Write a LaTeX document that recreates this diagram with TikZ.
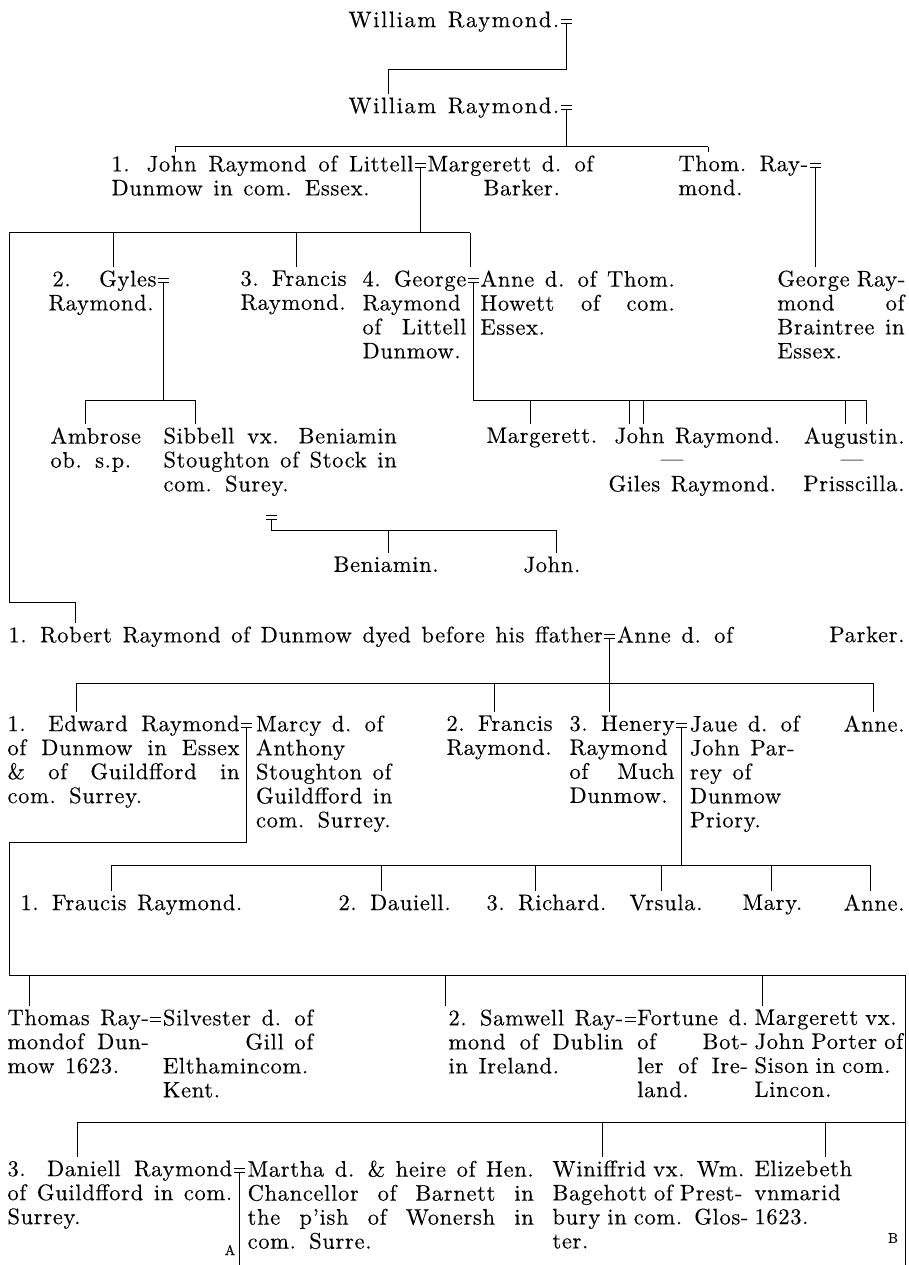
\documentclass[tikz,border=0pt]{standalone}
\usepackage{fontspec}
\setmainfont{lmroman10-regular}[Extension=.otf, LetterSpace=3, WordSpace=1.3, FakeBold=0.25]
\usetikzlibrary{calc}
\newlength\bw
\newlength\tmpw
\newcommand\W[1]{\settowidth{\tmpw}{#1}\global\bw=\tmpw}
\newcommand\Wd[1]{\global\bw=#1pt}
\newcommand\F[1]{\W{#1}#1}
\newcommand\J[1]{\makebox[\bw][s]{#1}}
\newcommand\Lx[1]{\makebox[\bw][l]{#1}}
\newcommand\Rx[1]{\makebox[\bw][r]{#1}}
\newcommand\mk[1]{\draw[line width=0.8pt] ($(#1)+(-5.5,-3)$) -- ++(11,0) ($(#1)+(-5.5,1)$) -- ++(11,0);}
\begin{document}
\begin{tikzpicture}[x=1pt,y=-1pt,line width=1pt,
  per/.style={anchor=north west,inner sep=0pt,align=left,font=\fontsize{22.5}{24}\selectfont},
  perr/.style={per,anchor=north east},
  dsh/.style={inner sep=0pt,font=\fontsize{22.5}{24}\selectfont},
  small/.style={inner sep=0pt,font=\fontsize{14}{15}\selectfont},
  tick/.style={shorten >=3pt}]
\useasboundingbox[fill=white] (0,0) rectangle (909,1265);
% ---------- rows 1-3
\node[per] (W1) at (348,11) {\addfontfeature{LetterSpace=7}William Raymond.};
\coordinate (m1) at ($(W1.north east)+(6.5,11)$);
\node[per] (W2) at (348,97) {\addfontfeature{LetterSpace=7}William Raymond.};
\coordinate (m2) at ($(W2.north east)+(6.5,11)$);
\node[per] (John) at (111,155) {\Wd{302}\J{1. John Raymond of Littell}\\\Lx{Dunmow in com. Essex.}};
\coordinate (m3) at ($(John.north east)+(6.5,11)$);
\node[per] (Marg) at ($(m3)+(6.5,-11)$) {\F{Margerett d. of}\\\hspace*{56pt}Barker.};
\node[per] (Thom) at (678,155) {\F{Thom. Ray-}\\\Lx{mond.}};
\coordinate (m4) at ($(Thom.north east)+(6.5,11)$);
% ---------- row 4
\node[per] (Gyles) at (48,270) {\Wd{108}\J{\hspace*{4pt}2.\hspace*{2pt} Gyles}\\\Lx{Raymond.}};
\coordinate (m5) at ($(Gyles.north east)+(6.5,11)$);
\node[per] (Fran3) at (240,270) {3. Francis\\Raymond.};
\node[per] (Geo4) at (362,270) {\F{4. George}\\\Lx{Raymond}\\\J{of Littell}\\\Lx{Dunmow.}};
\coordinate (m6) at ($(Geo4.north east)+(6.5,11)$);
\node[per] (Anne4) at ($(m6)+(6.5,-11)$) {\F{Anne d. of Thom.}\\\J{Howett of com.}\\\Lx{Essex.}};
\node[perr] (GeoR) at (905,270) {\W{Braintree in}\J{George Ray-}\\\J{mond of}\\\J{Braintree in}\\\Lx{Essex.}};
% ---------- row 5
\node[per] (Ambrose) at (50,427) {Ambrose\\ob. s.p.};
\node[per] (Sibbell) at (163,427) {\W{Stoughton of Stock in}\J{Sibbell vx. Beniamin}\\\J{Stoughton of Stock in}\\\Lx{com. Surey.}};
\node[per] (Marg5) at (486,427) {Margerett.};
\node[per] (JohnR) at (614,427) {John Raymond.};
\node[dsh] (dash1) at (672,463) {—};
\node[per] (GilesR) at (608,475) {Giles Raymond.};
\node[perr] (Aug) at (905,427) {Augustin.};
\node[dsh] (dash2) at (852,463) {—};
\node[perr] (Pris) at (905,475) {Prisscilla.};
\coordinate (m10) at (271,518);
% ---------- row 6
\node[per] (Beni) at (333,556) {Beniamin.};
\node[per] (John6) at (523,556) {John.};
% ---------- Robert
\node[per] (Robert) at (8,626) {1. Robert Raymond of Dunmow dyed before his ffather};
\coordinate (m7) at ($(Robert.north east)+(6.5,11)$);
\node[per] (AnneR) at ($(m7)+(6.5,-11)$) {Anne d. of};
\node[perr] (Parker) at (905,626) {Parker.};
% ---------- row 8
\node[per] (Edward) at (7,715) {\Wd{232}\J{1. Edward Raymond}\\\J{of Dunmow in Essex}\\\J{\& of Guildfford in}\\\Lx{com. Surrey.}};
\coordinate (m8) at ($(Edward.north east)+(6.5,11)$);
\node[per] (Marcy) at ($(m8)+(9,-11)$) {Marcy d. of\\Anthony\\Stoughton of\\Guildfford in\\com. Surrey.};
\node[per] (Fran2) at (446,715) {2. Francis\\Raymond.};
\node[per] (Henery) at (569,715) {\F{3. Henery}\\\Lx{Raymond}\\\J{of Much}\\\Lx{Dunmow.}};
\coordinate (m9) at ($(Henery.north east)+(6.5,11)$);
\node[per] (Jane) at ($(m9)+(8,-11)$) {Jaue d. of\\John Par-\\rey of\\Dunmow\\Priory.};
\node[perr] (Anne8) at (905,715) {Anne.};
% ---------- row 9
\node[per] (Fraucis) at (20,894) {1. Fraucis Raymond.};
\node[per] (Dauiell) at (338,894) {2. Dauiell.};
\node[per] (Richard) at (486,894) {3. Richard.};
\node[per] (Vrsula) at (629,894) {Vrsula.};
\node[per] (Mary) at (742,894) {Mary.};
\node[perr] (Anne9) at (905,894) {Anne.};
% ---------- row 10
\node[per] (Thomas) at (7,1009) {\F{Thomas Ray-}\\\J{mondof Dun-}\\\Lx{mow 1623.}};
\coordinate (m12) at ($(Thomas.north east)+(6.5,11)$);
\node[per] (Silv) at ($(m12)+(6.5,-11)$) {\F{Silvester d. of}\\\Rx{Gill of}\\\Lx{Elthamincom.}\\\Lx{Kent.}};
\node[per] (Samwell) at (448,1009) {\F{2. Samwell Ray-}\\\J{mond of Dublin}\\\Lx{in Ireland.}};
\coordinate (m13) at ($(Samwell.north east)+(6.5,11)$);
\node[per] (Fortune) at ($(m13)+(6.5,-11)$) {\F{Fortune d.}\\\J{of Bot-}\\\J{ler of Ire-}\\\Lx{land.}};
\node[per] (Marg10) at (754,1009) {\Wd{134}\J{Margerett vx.}\\\J{John Porter of}\\\J{Sison in com.}\\\Lx{Lincon.}};
% ---------- row 12
\node[per] (Daniell) at (7,1160) {\W{of Guildfford in com.}\J{3. Daniell Raymond}\\\J{of Guildfford in com.}\\\Lx{Surrey.}};
\coordinate (m11) at ($(Daniell.north east)+(6.5,11)$);
\node[per] (Martha) at ($(m11)+(8,-11)$) {\F{Martha d. \& heire of Hen.}\\\J{Chancellor of Barnett in}\\\J{the p'ish of Wonersh in}\\\Lx{com. Surre.}};
\node[per] (Winif) at (552,1160) {\Wd{184}\J{Winiffrid vx. Wm.}\\\J{Bagehott of Prest-}\\\J{bury in com. Glos-}\\\Lx{ter.}};
\node[per] (Eliz) at (754,1160) {Elizebeth\\vnmarid\\1623.};
\node[small] (lA) at (230,1250) {A};
\node[small] (lB) at (893,1238) {B};
% ---------- marks
\mk{m1}\mk{m2}\mk{m3}\mk{m4}\mk{m5}\mk{m6}\mk{m7}\mk{m8}\mk{m9}\mk{m10}\mk{m11}\mk{m12}\mk{m13}
% ---------- connectors
\coordinate (a1) at (388,70);
\draw[tick] ($(m1)+(0,1)$) |- (a1) -- (a1 |- W2.north);
\coordinate (b1) at (175,147); \coordinate (b2) at (708,147);
\draw ($(m2)+(0,1)$) -- (m2 |- b1);
\draw (b1) -- (b2);
\draw[tick] (b1) -- (b1 |- John.north);
\draw[tick] (b2) -- (b2 |- Thom.north);
\coordinate (c0) at (9,233); \coordinate (c1) at (113,233); \coordinate (c2) at (296,233); \coordinate (c3) at (470,233);
\draw ($(m3)+(0,1)$) -- (m3 |- c0);
\draw (c0) -- (c3);
\draw[tick] (c1) -- (c1 |- Gyles.north);
\draw[tick] (c2) -- (c2 |- Fran3.north);
\draw[tick] (c3) -- (c3 |- Geo4.north);
\coordinate (g0) at (9,602); \coordinate (g1) at (75,602);
\draw[tick] (c0) -- (g0) -- (g1) -- (g1 |- Robert.north);
\draw[tick] ($(m4)+(0,1)$) -- (m4 |- GeoR.north);
\coordinate (d1) at (85,400); \coordinate (d2) at (195,400);
\draw ($(m5)+(0,1)$) -- (m5 |- d1);
\draw (d1) -- (d2);
\draw[tick] (d1) -- (d1 |- Ambrose.north);
\draw[tick] (d2) -- (d2 |- Sibbell.north);
\coordinate (e9) at (866,400);
\draw ($(m6)+(0,1)$) |- (e9);
\coordinate (e1) at (530,400); \coordinate (e2) at (629,400); \coordinate (e3) at (643,400); \coordinate (e4) at (845,400);
\draw[tick] (e1) -- (e1 |- Marg5.north);
\draw[tick] (e2) -- (e2 |- JohnR.north);
\draw[tick] (e3) -- (e3 |- JohnR.north);
\draw[tick] (e4) -- (e4 |- Aug.north);
\draw[tick] (e9) -- (e9 |- Aug.north);
\coordinate (f1) at (388,530); \coordinate (f2) at (556,530);
\draw ($(m10)+(0,1)$) |- (f2);
\draw[tick] (f1) -- (f1 |- Beni.north);
\draw[tick] (f2) -- (f2 |- John6.north);
% Robert's children
\coordinate (h0) at (76,683); \coordinate (h1) at (494,683); \coordinate (h3) at (873,683);
\draw ($(m7)+(0,1)$) -- (m7 |- h0);
\draw (h0) -- (h3);
\draw[tick] (h0) -- (h0 |- Edward.north);
\draw[tick] (h1) -- (h1 |- Fran2.north);
\draw[tick] (m7 |- h0) -- (m7 |- Henery.north);
\draw[tick] (h3) -- (h3 |- Anne8.north);
% Edward's children
\coordinate (k0) at (9,842); \coordinate (k1) at (9,975); \coordinate (k2) at (905,975); \coordinate (k3) at (905,1265);
\draw ($(m8)+(0,1)$) |- (k0) -- (k1) -- (k2) -- (k3);
\coordinate (t1) at (29,975); \coordinate (t2) at (445,975); \coordinate (t3) at (762,975);
\draw[tick] (t1) -- (t1 |- Thomas.north);
\draw[tick] (t2) -- (t2 |- Samwell.north);
\draw[tick] (t3) -- (t3 |- Marg10.north);
\coordinate (u0) at (77,1122); \coordinate (u1) at (602,1122); \coordinate (u2) at (825,1122); \coordinate (u3) at (905,1122);
\draw (u0) -- (u3);
\draw[tick] (u0) -- (u0 |- Daniell.north);
\draw[tick] (u1) -- (u1 |- Winif.north);
\draw[tick] (u2) -- (u2 |- Eliz.north);
\draw ($(m11)+(0,1)$) -- (m11 |- k3);
% Henery's children
\coordinate (p0) at (111,865); \coordinate (p1) at (381,865); \coordinate (p2) at (535,865);
\coordinate (p3) at (661,865); \coordinate (p4) at (771,865); \coordinate (p5) at (870,865);
\draw ($(m9)+(0,1)$) -- (m9 |- p0);
\draw (p0) -- (p5);
\draw[tick] (p0) -- (p0 |- Fraucis.north);
\draw[tick] (p1) -- (p1 |- Dauiell.north);
\draw[tick] (p2) -- (p2 |- Richard.north);
\draw[tick] (p3) -- (p3 |- Vrsula.north);
\draw[tick] (p4) -- (p4 |- Mary.north);
\draw[tick] (p5) -- (p5 |- Anne9.north);
\end{tikzpicture}
\end{document}
